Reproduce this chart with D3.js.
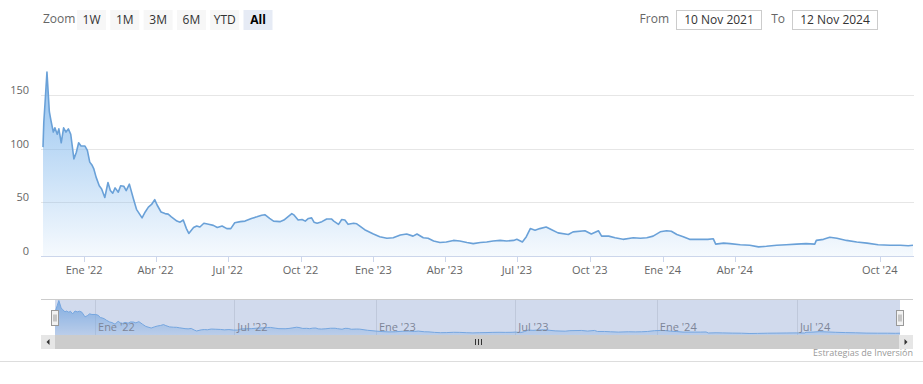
<!DOCTYPE html>
<html><head><meta charset="utf-8">
<script src="https://cdn.jsdelivr.net/npm/d3@7"></script>
<style>
body{margin:0;background:#fff;}
svg{display:block;font-family:"Open Sans","Noto Sans",sans-serif;}
</style></head><body>
<svg id="chart" width="923" height="384"></svg>
<script>
// ---------- DATA ----------
const dates = ["2021-11-10","2021-11-11","2021-11-13","2021-11-15","2021-11-18","2021-11-20","2021-11-23","2021-11-25","2021-11-28","2021-11-30",
"2021-12-03","2021-12-06","2021-12-09","2021-12-12","2021-12-15","2021-12-19","2021-12-22","2021-12-25","2021-12-28","2022-01-02",
"2022-01-05","2022-01-08","2022-01-11","2022-01-13","2022-01-16","2022-01-20","2022-01-23","2022-01-27","2022-01-31","2022-02-03",
"2022-02-06","2022-02-09","2022-02-13","2022-02-16","2022-02-20","2022-02-23","2022-02-27","2022-03-04","2022-03-08","2022-03-15",
"2022-03-19","2022-03-23","2022-03-27","2022-03-31","2022-04-03","2022-04-08","2022-04-13","2022-04-17","2022-04-21","2022-04-28",
"2022-05-02","2022-05-06","2022-05-10","2022-05-13","2022-05-19","2022-05-23","2022-05-27","2022-06-01","2022-06-07","2022-06-13",
"2022-06-18","2022-06-24","2022-06-30","2022-07-05","2022-07-10","2022-07-17","2022-07-23","2022-07-31","2022-08-07","2022-08-13",
"2022-08-17","2022-08-23","2022-08-28","2022-09-05","2022-09-10","2022-09-15","2022-09-20","2022-09-23","2022-09-28","2022-10-03",
"2022-10-07","2022-10-11","2022-10-15","2022-10-18","2022-10-22","2022-10-28","2022-11-03","2022-11-09","2022-11-12","2022-11-18",
"2022-11-22","2022-11-26","2022-11-30","2022-12-07","2022-12-11","2022-12-21","2023-01-01","2023-01-09","2023-01-18","2023-01-26",
"2023-02-04","2023-02-12","2023-02-20","2023-02-25","2023-03-05","2023-03-11","2023-03-18","2023-03-26","2023-04-03","2023-04-12",
"2023-04-20","2023-04-29","2023-05-07","2023-05-16","2023-05-24","2023-06-01","2023-06-10","2023-06-18","2023-06-27","2023-07-01",
"2023-07-08","2023-07-13","2023-07-18","2023-07-24","2023-07-30","2023-08-07","2023-08-14","2023-08-22","2023-09-04","2023-09-10",
"2023-09-25","2023-10-03","2023-10-12","2023-10-16","2023-10-25","2023-11-02","2023-11-12","2023-11-25","2023-12-04","2023-12-12",
"2023-12-20","2023-12-29","2024-01-06","2024-01-12","2024-01-19","2024-01-27","2024-02-04","2024-02-17","2024-02-27","2024-03-05",
"2024-03-08","2024-03-18","2024-03-26","2024-04-08","2024-04-20","2024-05-01","2024-05-11","2024-05-24","2024-06-05","2024-06-18",
"2024-06-30","2024-07-11","2024-07-13","2024-07-22","2024-07-30","2024-08-08","2024-08-20","2024-09-02","2024-09-15","2024-09-29",
"2024-10-14","2024-10-27","2024-11-06","2024-11-12"];
const values = [102,125,148,172,135,127,116,120,114,119,
106,120,116,119,114,91,97,106,103,103,
99,88,85,82,74,66,63,55,69,61.5,
59,64,60,66,65.5,61.5,67.5,54,44,36,
41.5,46,48.5,53,48,41.5,40,39.5,37,33,
32,34,26,21.5,27,28.5,27.5,31,30,29,
27,28.5,26,26,31.5,32.5,33,35.5,37,38.5,
39,35.5,33,32.5,34,37,40,38.5,34,34.5,
33,35.5,36,32,31,32.5,35,35,33,30,
34.5,34,30,31,30.5,25,21,18.5,17,17.5,
20,21,19,21,17.5,17,14.5,13,13.5,15,
14.5,13,12,13,13.5,14.5,15,14.5,15,16,
13.5,18.5,26,24.5,26,27.5,25,22,20.5,23,
24,21,24,19,19,17.5,16,17.5,17,17.5,
19,23,24,23.5,20.5,18.5,16,16,16,16.5,
11.5,12.5,12,11,10.5,9,9.5,10.5,11,11.5,
12,11.5,15,16,18,17,15,13.5,12.5,11,
10.5,10.5,10,10.5];

const yTicks = [0, 50, 100, 150];
const xTickDates = ["2022-01-01","2022-04-01","2022-07-01","2022-10-01","2023-01-01","2023-04-01","2023-07-01","2023-10-01","2024-01-01","2024-04-01","2024-10-01"];
const xTickLabels = ["Ene '22","Abr '22","Jul '22","Oct '22","Ene '23","Abr '23","Jul '23","Oct '23","Ene '24","Abr '24","Oct '24"];
const navTickDates = ["2022-01-01","2022-07-01","2023-01-01","2023-07-01","2024-01-01","2024-07-01"];
const navTickLabels = ["Ene '22","Jul '22","Ene '23","Jul '23","Ene '24","Jul '24"];
const zoomButtons = ["1W","1M","3M","6M","YTD","All"];
const selectedButton = "All";
const rangeFrom = "10 Nov 2021";
const rangeTo = "12 Nov 2024";
const creditText = "Estrategias de Inversión";

// ---------- CHART ----------
const parse = d3.utcParse("%Y-%m-%d");
const data = dates.map((d, i) => ({date: parse(d), value: values[i]}));
const svg = d3.select("#chart");

const plot = {left: 43, right: 913, top: 42, bottom: 256.5};
const x = d3.scaleUtc().domain(d3.extent(data, d => d.date)).range([plot.left, plot.right]);
const y = d3.scaleLinear().domain([0, 200]).range([plot.bottom, plot.top]);

const defs = svg.append("defs");
const grad = defs.append("linearGradient").attr("id", "areaGrad")
  .attr("gradientUnits", "userSpaceOnUse").attr("x1", 0).attr("x2", 0)
  .attr("y1", plot.top).attr("y2", plot.bottom);
grad.append("stop").attr("offset", 0).attr("stop-color", "#7cb5ec").attr("stop-opacity", 0.95);
grad.append("stop").attr("offset", 1).attr("stop-color", "#7cb5ec").attr("stop-opacity", 0.07);

// grid
svg.append("g").selectAll("line").data(yTicks.filter(v => v > 0)).join("line")
  .attr("x1", 41).attr("x2", plot.right + 1)
  .attr("y1", d => Math.floor(y(d)) + 0.5).attr("y2", d => Math.floor(y(d)) + 0.5)
  .attr("stroke", "#e6e6e6").attr("stroke-width", 1);

// y labels
svg.append("g").selectAll("text").data(yTicks).join("text")
  .attr("x", 29).attr("y", d => y(d) - 1.5).attr("text-anchor", "end")
  .attr("font-size", 11).attr("fill", "#666").text(d => d);

// area + line
const area = d3.area().x(d => x(d.date)).y0(y(0)).y1(d => y(d.value));
const line = d3.line().x(d => x(d.date)).y(d => y(d.value));
svg.append("path").datum(data).attr("d", area).attr("fill", "url(#areaGrad)");
svg.append("path").datum(data).attr("d", line).attr("fill", "none")
  .attr("stroke", "#6aa1d8").attr("stroke-width", 1.6).attr("stroke-linejoin", "round");

// x axis
svg.append("line").attr("x1", 41).attr("x2", plot.right + 1)
  .attr("y1", Math.floor(plot.bottom) + 0.5).attr("y2", Math.floor(plot.bottom) + 0.5)
  .attr("stroke", "#ccd6eb");
const xt = xTickDates.map((d, i) => ({date: parse(d), label: xTickLabels[i]}));
svg.append("g").selectAll("line").data(xt).join("line")
  .attr("x1", d => Math.round(x(d.date)) + 0.5).attr("x2", d => Math.round(x(d.date)) + 0.5)
  .attr("y1", 256.5).attr("y2", 262).attr("stroke", "#ccd6eb");
svg.append("g").selectAll("text").data(xt).join("text")
  .attr("x", d => x(d.date)).attr("y", 274).attr("text-anchor", "middle")
  .attr("font-size", 11).attr("fill", "#666").text(d => d.label);

// ---------- range selector ----------
svg.append("text").attr("x", 43).attr("y", 23).attr("font-size", 12).attr("fill", "#666").text("Zoom");
const btn = svg.append("g").selectAll("g").data(zoomButtons).join("g")
  .attr("transform", (d, i) => `translate(${77 + i * 33.3},10)`);
btn.append("rect").attr("width", 29).attr("height", 20)
  .attr("fill", d => d === selectedButton ? "#e6ebf5" : "#f7f7f7");
btn.append("text").attr("x", 14.5).attr("y", 14).attr("text-anchor", "middle")
  .attr("font-size", 12)
  .attr("font-weight", d => d === selectedButton ? "bold" : "normal")
  .attr("fill", d => d === selectedButton ? "#000" : "#333").text(d => d);

const inputs = [{label: "From", value: rangeFrom, lx: 669, bx: 676.5}, {label: "To", value: rangeTo, lx: 785, bx: 792.5}];
const inp = svg.append("g").selectAll("g").data(inputs).join("g");
inp.append("text").attr("x", d => d.lx).attr("y", 23).attr("text-anchor", "end")
  .attr("font-size", 12).attr("fill", "#666").text(d => d.label);
inp.append("rect").attr("x", d => d.bx).attr("y", 10.5).attr("width", 85).attr("height", 19)
  .attr("fill", "#fff").attr("stroke", "#cccccc");
inp.append("text").attr("x", d => d.bx + 42.5).attr("y", 24).attr("text-anchor", "middle")
  .attr("font-size", 12).attr("fill", "#333").text(d => d.value);

// ---------- navigator ----------
const nav = {left: 55, right: 900, top: 299, bottom: 335};
const nx = d3.scaleUtc().domain(d3.extent(data, d => d.date)).range([nav.left, nav.right]);
const ny = d3.scaleLinear().domain(d3.extent(values)).range([nav.bottom - 1.5, nav.top + 1.5]);
const navGrad = defs.append("linearGradient").attr("id", "navGrad")
  .attr("gradientUnits", "userSpaceOnUse").attr("x1", 0).attr("x2", 0)
  .attr("y1", nav.top).attr("y2", nav.bottom);
navGrad.append("stop").attr("offset", 0).attr("stop-color", "#7cb5ec").attr("stop-opacity", 0.9);
navGrad.append("stop").attr("offset", 1).attr("stop-color", "#7cb5ec").attr("stop-opacity", 0.25);

const nt = navTickDates.map((d, i) => ({date: parse(d), label: navTickLabels[i]}));
svg.append("g").selectAll("line").data(nt).join("line")
  .attr("x1", d => Math.round(nx(d.date)) + 0.5).attr("x2", d => Math.round(nx(d.date)) + 0.5)
  .attr("y1", nav.top).attr("y2", nav.bottom).attr("stroke", "#e6e6e6");
svg.append("path").datum(data)
  .attr("d", d3.area().x(d => nx(d.date)).y0(nav.bottom).y1(d => ny(d.value)))
  .attr("fill", "url(#navGrad)");
svg.append("path").datum(data)
  .attr("d", d3.line().x(d => nx(d.date)).y(d => ny(d.value)))
  .attr("fill", "none").attr("stroke", "#7cb5ec").attr("stroke-width", 1);
// mask of selected range
svg.append("rect").attr("x", nav.left).attr("y", nav.top).attr("width", nav.right - nav.left)
  .attr("height", nav.bottom - nav.top).attr("fill", "rgba(102,133,194,0.3)");
svg.append("g").selectAll("text").data(nt).join("text")
  .attr("x", d => nx(d.date) + 3).attr("y", 331).attr("font-size", 11)
  .attr("fill", "#7d8598").text(d => d.label);
svg.append("line").attr("x1", 41).attr("x2", 913).attr("y1", nav.top + 0.5).attr("y2", nav.top + 0.5)
  .attr("stroke", "#cccccc");

// scrollbar
const sb = {left: 41, right: 913, top: 335, h: 14, btn: 14};
svg.append("rect").attr("x", sb.left).attr("y", sb.top).attr("width", sb.right - sb.left).attr("height", sb.h).attr("fill", "#f2f2f2");
svg.append("rect").attr("x", nav.left).attr("y", sb.top).attr("width", nav.right - nav.left).attr("height", sb.h).attr("fill", "#cccccc");
[sb.left, sb.right - sb.btn].forEach((bx, i) => {
  svg.append("rect").attr("x", bx).attr("y", sb.top).attr("width", sb.btn).attr("height", sb.h).attr("fill", "#e6e6e6");
  const cx = bx + sb.btn / 2, cy = sb.top + sb.h / 2;
  const pts = i === 0 ? [[cx - 1.5, cy], [cx + 1.5, cy - 3], [cx + 1.5, cy + 3]] : [[cx + 1.5, cy], [cx - 1.5, cy - 3], [cx - 1.5, cy + 3]];
  svg.append("path").attr("d", "M" + pts.map(p => p.join(",")).join("L") + "Z").attr("fill", "#333");
});
const gx = (nav.left + nav.right) / 2;
[-3, 0, 3].forEach(o => svg.append("line").attr("x1", Math.round(gx + o) + 0.5).attr("x2", Math.round(gx + o) + 0.5)
  .attr("y1", sb.top + 4).attr("y2", sb.top + 10).attr("stroke", "#333"));

// handles
[nav.left, nav.right].forEach(hx => {
  const g = svg.append("g").attr("transform", `translate(${Math.round(hx) - 3.5},${310.5})`);
  g.append("rect").attr("width", 7).attr("height", 15).attr("fill", "#f2f2f2").attr("stroke", "#999");
  g.append("line").attr("x1", 2.5).attr("x2", 2.5).attr("y1", 4).attr("y2", 11).attr("stroke", "#999");
  g.append("line").attr("x1", 4.5).attr("x2", 4.5).attr("y1", 4).attr("y2", 11).attr("stroke", "#999");
});

// credit + bottom rule
svg.append("text").attr("x", 913).attr("y", 356).attr("text-anchor", "end")
  .attr("font-size", 9).attr("fill", "#999").text(creditText);
svg.append("line").attr("x1", 0).attr("x2", 923).attr("y1", 361.5).attr("y2", 361.5).attr("stroke", "#dddddd");
</script>
</body></html>
